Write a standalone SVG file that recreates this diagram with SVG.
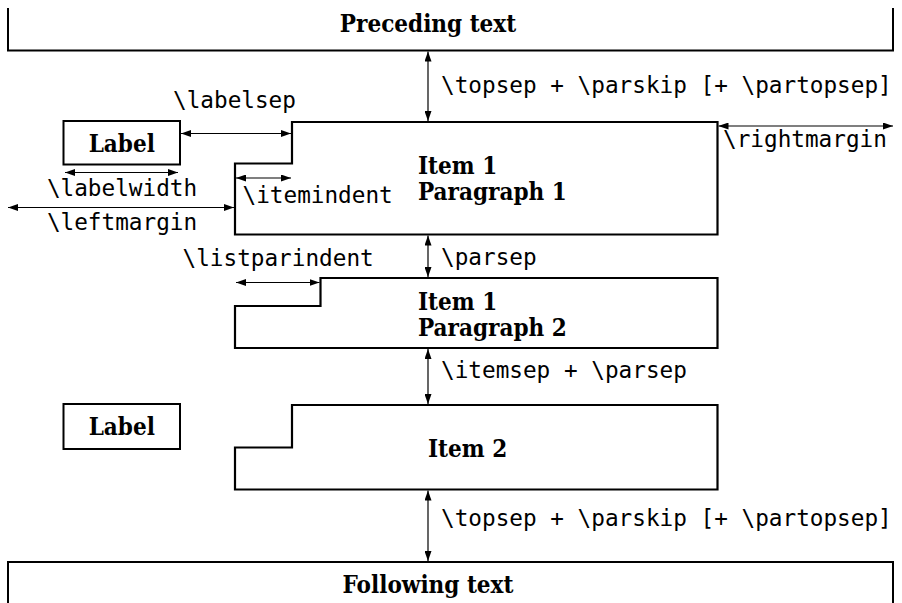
<svg xmlns="http://www.w3.org/2000/svg" width="902" height="603" viewBox="0 0 902 603">
<defs>
<style>
.box{fill:none;stroke:#000;stroke-width:2;stroke-linejoin:miter}
.par{fill:#fff;stroke:#000;stroke-width:2.2}
.arr{fill:none;stroke:#000;stroke-width:1.2;marker-start:url(#ah);marker-end:url(#ah)}
.b{font-family:"DejaVu Serif",serif;font-stretch:condensed;font-weight:bold;font-size:24px;fill:#000}
.m{font-family:"DejaVu Sans Mono",monospace;font-size:22.7px;fill:#000}
</style>
<marker id="ah" viewBox="0 0 10 7" refX="10" refY="3.5" markerWidth="10" markerHeight="7" markerUnits="userSpaceOnUse" orient="auto-start-reverse">
<path d="M0,0 L10,3.5 L0,7 z" fill="#000"/>
</marker>
</defs>
<rect width="902" height="603" fill="#fff"/>
<g id="preceding">
<path class="box" d="M8,8 V50.5 H893 V8"/>
<text class="b" x="428" y="31.5" text-anchor="middle">Preceding text</text>
</g>
<g id="following">
<path class="box" d="M8,603 V562 H893 V603"/>
<text class="b" x="428" y="593" text-anchor="middle">Following text</text>
</g>
<g id="label1">
<rect class="box" x="63.5" y="121" width="116.5" height="43.5"/>
<text class="b" x="121.75" y="152" text-anchor="middle">Label</text>
</g>
<g id="label2">
<rect class="box" x="63.5" y="404" width="116.5" height="45"/>
<text class="b" x="121.75" y="435" text-anchor="middle">Label</text>
</g>
<g id="item1para1">
<path class="par" d="M292,122 H717.5 V234.5 H235 V163.5 H292 Z"/>
<text class="b" x="418" y="174">Item 1</text>
<text class="b" x="418" y="200">Paragraph 1</text>
</g>
<g id="item1para2">
<path class="par" d="M320.5,278 H717.5 V348 H235 V306 H320.5 Z"/>
<text class="b" x="418" y="310">Item 1</text>
<text class="b" x="418" y="336">Paragraph 2</text>
</g>
<g id="item2">
<path class="par" d="M292,405 H717.5 V489.5 H235 V447.5 H292 Z"/>
<text class="b" x="428" y="457">Item 2</text>
</g>
<g id="connectors">
<line class="arr" x1="428" y1="51.5" x2="428" y2="121"/>
<line class="arr" x1="181" y1="133.5" x2="291" y2="133.5"/>
<line class="arr" x1="718.5" y1="126" x2="893" y2="126"/>
<line class="arr" x1="65" y1="172.5" x2="178" y2="172.5"/>
<line class="arr" x1="8" y1="207.5" x2="234" y2="207.5"/>
<line class="arr" x1="236" y1="178" x2="291" y2="178"/>
<line class="arr" x1="428" y1="235.5" x2="428" y2="277"/>
<line class="arr" x1="236" y1="282.5" x2="319.5" y2="282.5"/>
<line class="arr" x1="428" y1="349" x2="428" y2="404"/>
<line class="arr" x1="428" y1="490.5" x2="428" y2="561"/>
</g>
<g id="labels">
<text class="m" x="441" y="93">\topsep + \parskip [+ \partopsep]</text>
<text class="m" x="173" y="108">\labelsep</text>
<text class="m" x="723" y="147">\rightmargin</text>
<text class="m" x="122" y="196" text-anchor="middle">\labelwidth</text>
<text class="m" x="122" y="230" text-anchor="middle">\leftmargin</text>
<text class="m" x="242.5" y="203">\itemindent</text>
<text class="m" x="182.5" y="266">\listparindent</text>
<text class="m" x="441" y="265">\parsep</text>
<text class="m" x="441" y="378">\itemsep + \parsep</text>
<text class="m" x="441" y="526">\topsep + \parskip [+ \partopsep]</text>
</g>
</svg>
